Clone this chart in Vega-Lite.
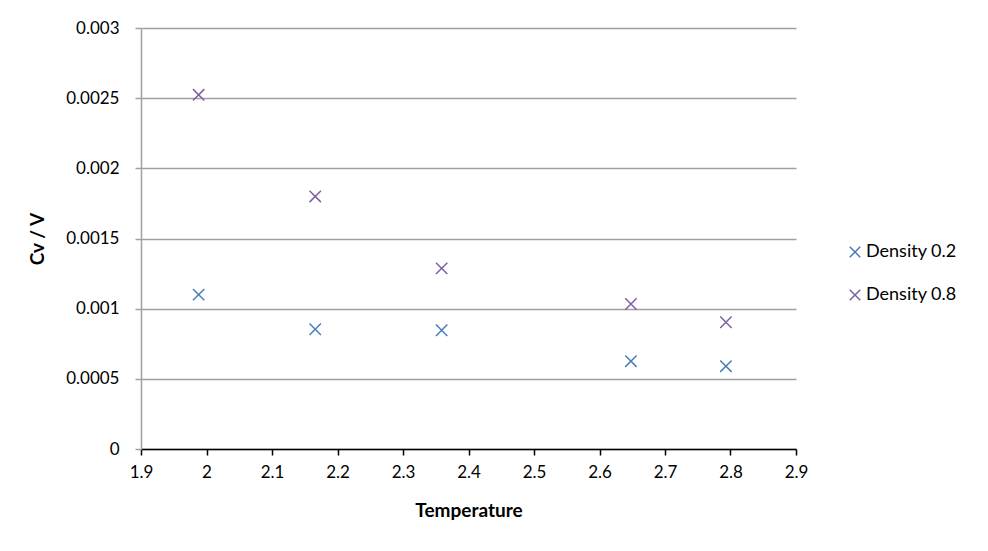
{
  "$schema": "https://vega.github.io/schema/vega-lite/v6.json",
  "autosize": "none",
  "width": 655,
  "height": 421,
  "padding": {"left": 141, "top": 28, "right": 192, "bottom": 102},
  "background": "white",
  "data": {
    "values": [
      {"temperature": 1.988, "cv": 0.00110, "series": "Density 0.2"},
      {"temperature": 2.166, "cv": 0.000853, "series": "Density 0.2"},
      {"temperature": 2.359, "cv": 0.000846, "series": "Density 0.2"},
      {"temperature": 2.648, "cv": 0.000626, "series": "Density 0.2"},
      {"temperature": 2.793, "cv": 0.000590, "series": "Density 0.2"},
      {"temperature": 1.988, "cv": 0.002524, "series": "Density 0.8"},
      {"temperature": 2.166, "cv": 0.001800, "series": "Density 0.8"},
      {"temperature": 2.359, "cv": 0.001287, "series": "Density 0.8"},
      {"temperature": 2.648, "cv": 0.001033, "series": "Density 0.8"},
      {"temperature": 2.793, "cv": 0.000903, "series": "Density 0.8"}
    ]
  },
  "mark": {
    "type": "point",
    "shape": "M-1,-1L1,1M-1,1L1,-1",
    "filled": false,
    "size": 130,
    "strokeWidth": 1.5,
    "opacity": 1
  },
  "encoding": {
    "x": {
      "field": "temperature",
      "type": "quantitative",
      "title": "Temperature",
      "scale": {"domain": [1.9, 2.9], "nice": false, "zero": false},
      "axis": {
        "values": [1.9, 2, 2.1, 2.2, 2.3, 2.4, 2.5, 2.6, 2.7, 2.8, 2.9],
        "format": "~g",
        "grid": false,
        "labelFlush": false,
        "domainColor": "black",
        "domainWidth": 1.5,
        "tickColor": "black",
        "tickWidth": 1.5,
        "tickSize": 6,
        "labelPadding": 9,
        "titlePadding": 21
      }
    },
    "y": {
      "field": "cv",
      "type": "quantitative",
      "title": "Cv / V",
      "scale": {"domain": [0, 0.003], "nice": false},
      "axis": {
        "values": [0, 0.0005, 0.001, 0.0015, 0.002, 0.0025, 0.003],
        "format": "~g",
        "grid": true,
        "labelFlush": false,
        "gridColor": "#a0a0a0",
        "gridWidth": 1.5,
        "domainColor": "#a0a0a0",
        "domainWidth": 1.5,
        "tickColor": "#a0a0a0",
        "tickWidth": 1.5,
        "tickSize": 6,
        "labelPadding": 16,
        "titlePadding": 18
      }
    },
    "color": {
      "field": "series",
      "type": "nominal",
      "title": null,
      "scale": {"domain": ["Density 0.2", "Density 0.8"], "range": ["#4a7ebb", "#7d60a0"]},
      "legend": {
        "orient": "none",
        "legendX": 705,
        "legendY": 215,
        "symbolType": "M-1,-1L1,1M-1,1L1,-1",
        "symbolFillColor": "transparent",
        "symbolStrokeWidth": 1.5,
        "symbolSize": 110,
        "rowPadding": 25,
        "labelFontSize": 18,
        "labelFont": "Lato",
        "labelColor": "black",
        "labelOffset": 2
      }
    }
  },
  "config": {
    "view": {"stroke": null},
    "axis": {
      "labelFont": "Lato",
      "labelFontSize": 17,
      "labelColor": "black",
      "titleFont": "Lato",
      "titleFontSize": 19,
      "titleFontWeight": "bold",
      "titleColor": "black"
    }
  }
}
